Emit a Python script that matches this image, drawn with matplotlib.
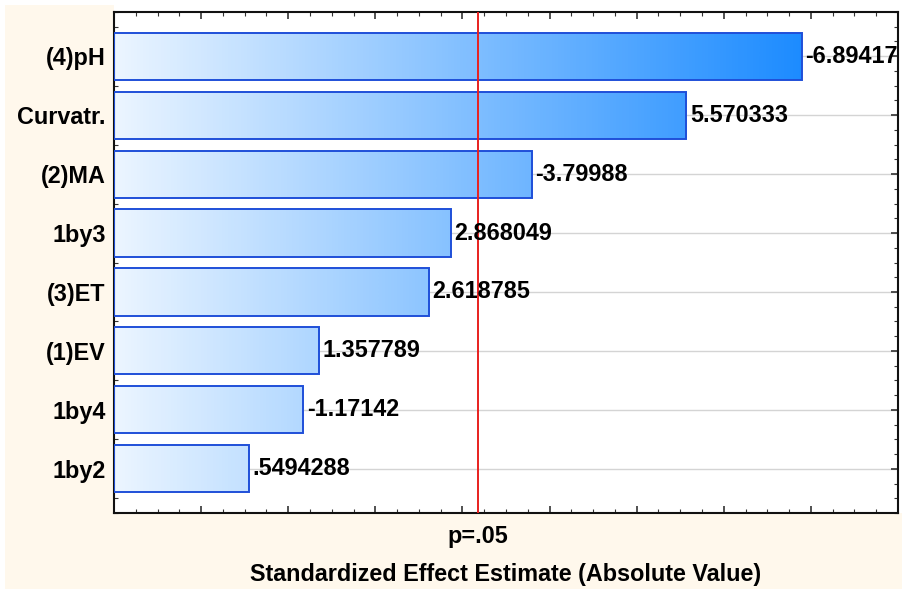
import numpy as np
import matplotlib.pyplot as plt
from matplotlib.patches import Rectangle
from matplotlib.colors import LinearSegmentedColormap
from matplotlib.ticker import MultipleLocator, NullFormatter

# ==============================
# Pareto chart data (standardized effects)
# ==============================
factors = ["(4)pH", "Curvatr.", "(2)MA", "1by3", "(3)ET", "(1)EV", "1by4", "1by2"]
effects = [-6.89417, 5.570333, -3.79988, 2.868049, 2.618785, 1.357789, -1.17142, 0.5494288]
t_crit = 3.182446  # p = .05 reference line

x_min, x_max = -1.0, 8.0
FS = 16.8
W, H = 903, 589

plt.rcParams['font.family'] = ['Liberation Sans', 'DejaVu Sans']
plt.rcParams['font.weight'] = 'bold'

fig = plt.figure(figsize=(W / 100, H / 100), dpi=100)
fig.patch.set_facecolor('white')

def px_rect(x0, y0, x1, y1, color, z):
    # rectangle given in pixel coords (origin top-left)
    fig.patches.append(Rectangle((x0 / W, 1 - y1 / H), (x1 - x0) / W, (y1 - y0) / H,
                                 transform=fig.transFigure, facecolor=color,
                                 edgecolor='none', zorder=z))

# cream backdrop, white behind and right of the plot frame
px_rect(5, 5, W, H, '#FFF8EC', -10)
px_rect(114, 0, W, 513, 'white', -9)

ax = fig.add_axes([114 / W, 1 - 513 / H, (898 - 114) / W, (513 - 12) / H])
ax.set_facecolor('white')

ypos = np.arange(len(factors))
mag = np.abs(effects)
y_lo, y_hi = len(factors) - 0.25, -0.75

cmap = LinearSegmentedColormap.from_list('blues', ['#EBF5FF', '#007DFF'])
grad = np.linspace(0, 1, 256).reshape(1, -1)

# horizontal grid behind bars
for y in ypos:
    ax.axhline(y, color='#D4D4D4', lw=1.0, zorder=0)

bars = ax.barh(ypos, mag - x_min, left=x_min, height=0.8,
               facecolor='none', edgecolor='#1F4FD8', linewidth=1.4, zorder=3)

# gradient fill spans the whole x range, clipped to each bar
for bar in bars:
    im = ax.imshow(grad, cmap=cmap, aspect='auto', zorder=2,
                   extent=(x_min, x_max, y_lo, y_hi), interpolation='bilinear')
    im.set_clip_path(bar)

ax.set_xlim(x_min, x_max)
ax.set_ylim(y_lo, y_hi)

def fmt(v):
    s = f"{v:.7g}"
    return s.replace("0.", ".", 1) if s.startswith("0.") else s

for y, m, v in zip(ypos, mag, effects):
    ax.text(m + 0.04, y, fmt(v), ha='left', va='center', fontsize=FS,
            fontweight='bold', color='black', zorder=5)

ax.axvline(t_crit, color='#E8201E', lw=1.4, zorder=4)

ax.set_yticks(ypos)
ax.set_yticklabels(factors, fontsize=FS, fontweight='bold')
ax.yaxis.set_minor_locator(MultipleLocator(0.25))
ax.xaxis.set_major_locator(MultipleLocator(1))
ax.xaxis.set_minor_locator(MultipleLocator(0.25))
ax.xaxis.set_major_formatter(NullFormatter())
ax.tick_params(which='both', direction='in', top=True, right=True, color='#333333')
ax.tick_params(which='major', length=5, width=1.2)
ax.tick_params(which='minor', length=3, width=0.8)
ax.tick_params(axis='y', pad=6)

for s in ax.spines.values():
    s.set_linewidth(1.5)
    s.set_color('#111111')

ax.text(t_crit, 1 - 537 / H, "p=.05",
        transform=ax.get_xaxis_transform().__class__(ax.transData, fig.transFigure),
        ha='center', va='center', fontsize=FS, fontweight='bold')
fig.text((114 + 898) / 2 / W, 1 - 574 / H,
         "Standardized Effect Estimate (Absolute Value)",
         ha='center', va='center', fontsize=FS, fontweight='bold')

fig.savefig("out.png", dpi=100, facecolor=fig.get_facecolor())
